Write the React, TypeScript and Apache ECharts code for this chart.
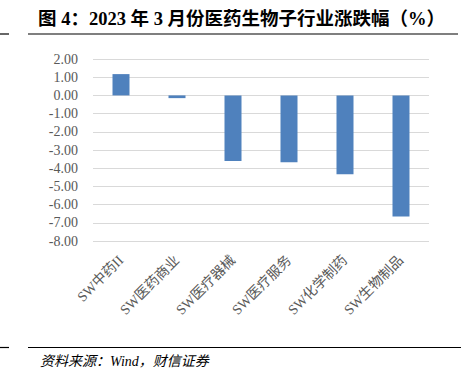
import React, { useEffect, useRef } from "react";
import * as echarts from "echarts";

const categories = ["SW中药II", "SW医药商业", "SW医疗器械", "SW医疗服务", "SW化学制药", "SW生物制品"];
const values = [1.17, -0.15, -3.6, -3.67, -4.33, -6.66];
const titleText = "图 4：2023 年 3 月份医药生物子行业涨跌幅（%）";
const sourceText = "资料来源：Wind，财信证券";

export default function App() {
  const ref = useRef<HTMLDivElement>(null);
  useEffect(() => {
    if (!ref.current) return;
    const chart = echarts.init(ref.current, null, { renderer: "svg" });
    const serif = "'Liberation Serif', 'Times New Roman', 'Noto Sans CJK SC', serif";
    chart.setOption({
      animation: false,
      backgroundColor: "#ffffff",
      grid: { left: 93, right: 32, top: 59, bottom: 145, containLabel: false },
      xAxis: {
        type: "category",
        data: categories,
        position: "bottom",
        axisLine: { show: false },
        axisTick: { show: false },
        axisLabel: {
          rotate: 45,
          interval: 0,
          margin: 17,
          color: "#595959",
          fontSize: 14,
          fontFamily: serif,
        },
      },
      yAxis: {
        type: "value",
        min: -8,
        max: 2,
        interval: 1,
        axisLine: { show: false },
        axisTick: { show: false },
        axisLabel: {
          margin: 15,
          color: "#595959",
          fontSize: 14,
          fontFamily: serif,
          formatter: (v: number) => v.toFixed(2),
        },
        splitLine: { lineStyle: { color: "#d9d9d9", width: 1 } },
      },
      series: [
        {
          type: "bar",
          data: values,
          barWidth: 17,
          itemStyle: { color: "#4f81bd" },
        },
      ],
      graphic: [
        {
          type: "text",
          left: 38,
          top: 10,
          style: {
            text: titleText,
            font: "bold 18.5px 'Liberation Serif', 'Noto Sans CJK SC', serif",
            fill: "#000000",
          },
        },
        { type: "line", shape: { x1: 0, y1: 34, x2: 9, y2: 34 }, style: { stroke: "#000", lineWidth: 1.2 } },
        { type: "line", shape: { x1: 28, y1: 34, x2: 458, y2: 34 }, style: { stroke: "#000", lineWidth: 1.2 } },
        { type: "line", shape: { x1: 0, y1: 347.5, x2: 9, y2: 347.5 }, style: { stroke: "#000", lineWidth: 1.2 } },
        { type: "line", shape: { x1: 28, y1: 347.5, x2: 461, y2: 347.5 }, style: { stroke: "#000", lineWidth: 1.2 } },
        {
          type: "text",
          left: 40,
          top: 354,
          style: {
            text: sourceText,
            font: "italic 14px 'Liberation Serif', 'Noto Sans CJK SC', serif",
            fill: "#000000",
          },
        },
      ],
    });
    return () => chart.dispose();
  }, []);
  return (
    <div
      ref={ref}
      style={{ position: "fixed", left: 0, top: 0, width: 461, height: 386 }}
    />
  );
}
